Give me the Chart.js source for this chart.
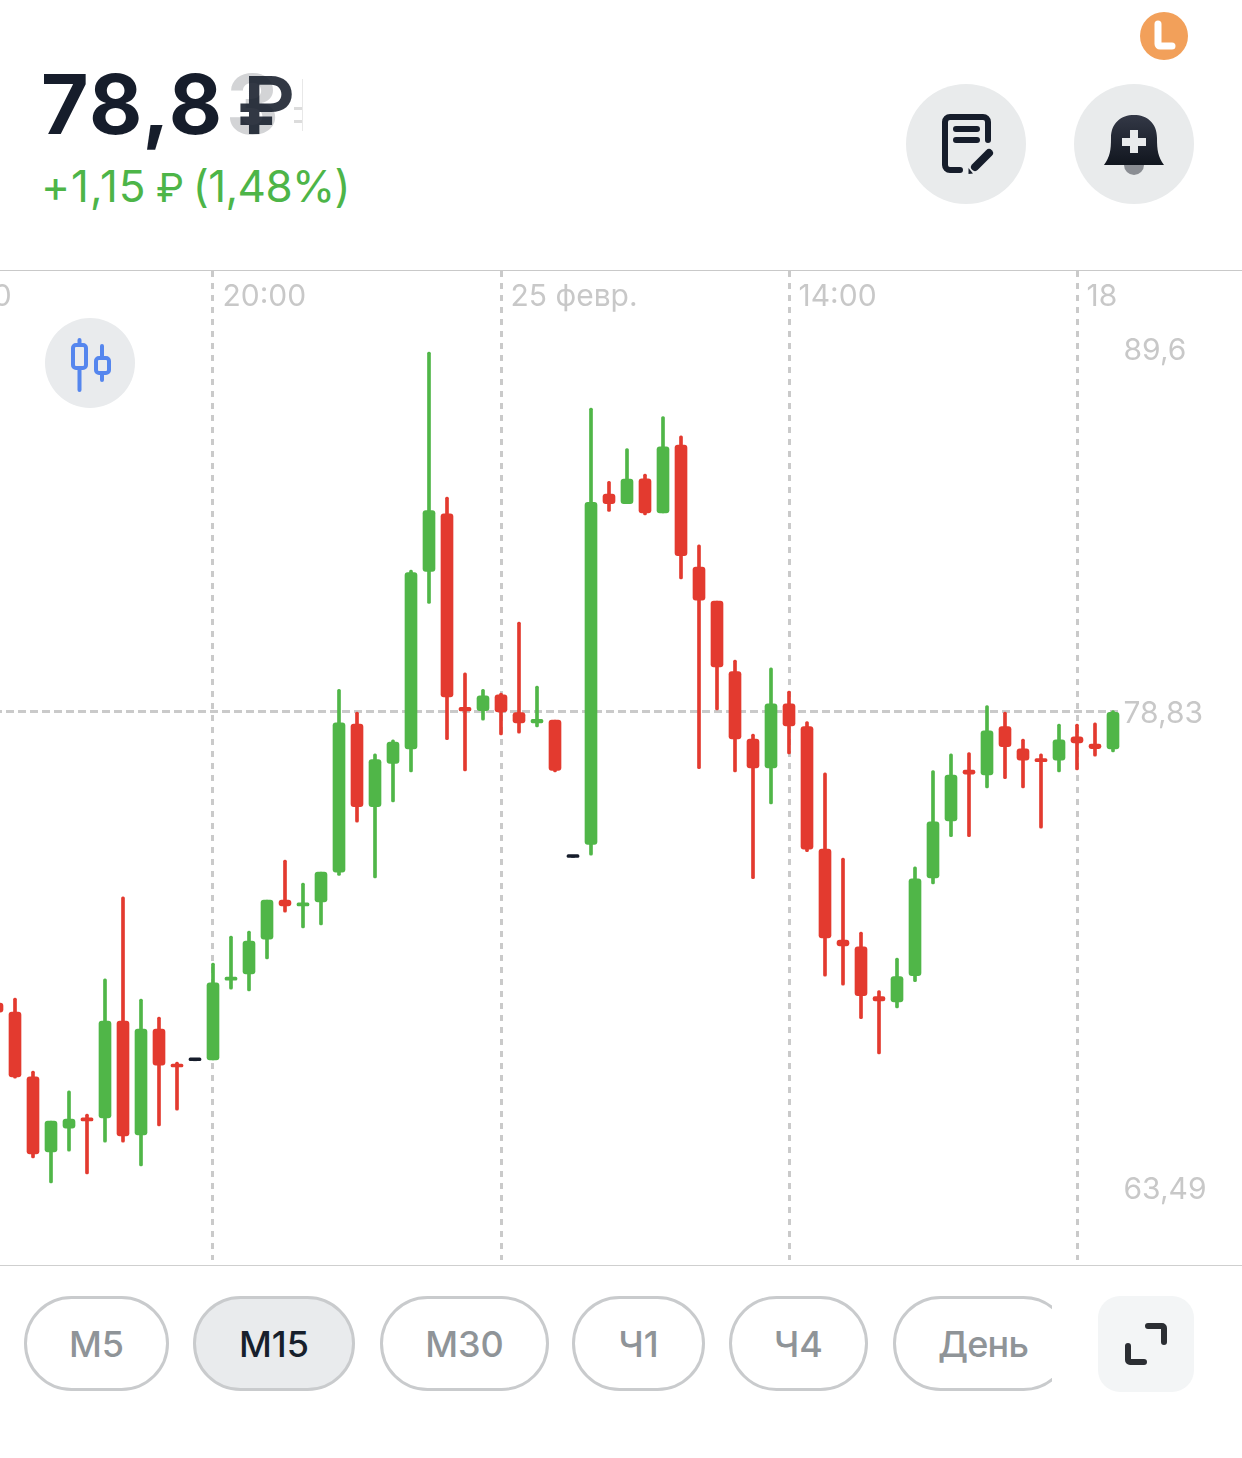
<!DOCTYPE html>
<html lang="ru">
<head>
<meta charset="utf-8">
<title>78,83 ₽</title>
<script src="https://cdn.jsdelivr.net/npm/chart.js@4/dist/chart.umd.js"></script>
<style>
html,body{margin:0;padding:0;background:#fff;width:1242px;height:1458px;overflow:hidden;font-family:Inter,"Noto Sans",sans-serif}
#page{position:relative;width:1242px;height:1458px;overflow:hidden}
.abs{position:absolute}
#chart{position:absolute;left:-102px;top:271px}
.pill{position:absolute;top:1296px;height:95px;box-sizing:border-box;border:3px solid #c9cbcd;border-radius:48px;color:#8f9498;font-size:36px;font-weight:500;display:flex;align-items:center;justify-content:center;background:#fff}
.pill.on{background:#e9ebed;color:#171f2c}
</style>
</head>
<body>
<div id="page">
  <div class="abs" style="left:226px;top:55px;font-size:82px;font-weight:700;line-height:100px;color:#d3d4d6">3</div>
  <div class="abs" style="left:41px;top:55px;font-size:82px;font-weight:700;line-height:100px;color:#161d2b;letter-spacing:1.5px">78,8</div>
  <div class="abs" style="left:237px;top:55px;font-size:80px;font-weight:600;line-height:100px;color:#161d2b;opacity:.88">₽</div>
  <div class="abs" style="left:294px;top:107px;width:8px;height:3px;background:#dcdcdc"></div>
  <div class="abs" style="left:294px;top:120px;width:8px;height:3px;background:#dcdcdc"></div>
  <div class="abs" style="left:302px;top:79px;width:1px;height:52px;background:#e8e8e8"></div>
  <div class="abs" style="left:41px;top:158px;font-size:44px;line-height:56px;color:#4db548;white-space:nowrap;letter-spacing:-0.6px"><span style="letter-spacing:1px">+1,15 </span><span style="font-size:40px;letter-spacing:0;margin-left:-4px">₽</span> <span style="letter-spacing:-0.6px;margin-left:-3px">(1,48%)</span></div>

  <svg class="abs" style="left:0;top:0" width="1242" height="270" viewBox="0 0 1242 270">
    <circle cx="1164" cy="36" r="24" fill="#f2a05a"/>
    <path d="M1158 24V44a2 2 0 0 0 2 2H1172" fill="none" stroke="#fff" stroke-width="7" stroke-linecap="round" stroke-linejoin="round"/>
    <circle cx="966" cy="144" r="60" fill="#e9ebec"/>
    <circle cx="1134" cy="144" r="60" fill="#e9ebec"/>
    <path d="M988 140V122a5 5 0 0 0-5-5H950a5 5 0 0 0-5 5V165a5 5 0 0 0 5 5H960" fill="none" stroke="#161d2b" stroke-width="6" stroke-linecap="round"/>
    <path d="M956 129H977M956 140H977" fill="none" stroke="#161d2b" stroke-width="6" stroke-linecap="round"/>
    <path d="M989 153L975 167" fill="none" stroke="#161d2b" stroke-width="8" stroke-linecap="round"/>
    <path d="M968.5 168L973 173.500L968.500 174Z" fill="#161d2b"/>
    <circle cx="1134" cy="165" r="10" fill="#8a8d93"/>
    <defs><linearGradient id="bg" x1="0" y1="0" x2="0" y2="1"><stop offset="0" stop-color="#333846"/><stop offset="1" stop-color="#11161f"/></linearGradient></defs>
    <path d="M1104 165C1110 157 1111 150 1111 138C1111 123 1121 115 1134 115C1147 115 1157 123 1157 138C1157 150 1158 157 1164 165Z" fill="url(#bg)"/>
    <path d="M1130 130H1138V138H1146V146H1138V153H1130V146H1122V138H1130Z" fill="#e9ebec"/>
  </svg>

  <canvas id="chart" width="1344" height="989"></canvas>

  <div class="abs" style="left:0;top:270px;width:1242px;height:1px;background:#c9c9c9"></div>
  <div class="abs" style="left:0;top:1265px;width:1242px;height:1px;background:#cfcfcf"></div>

  <svg class="abs" style="left:45px;top:318px" width="90" height="90" viewBox="45 318 90 90">
    <circle cx="90" cy="363" r="45" fill="#e9ebed"/>
    <g fill="none" stroke="#5586ee" stroke-width="4" stroke-linecap="round" stroke-linejoin="round">
      <path d="M79.500 340V345M79.500 368V390"/>
      <rect x="73" y="345" width="13" height="23" rx="3"/>
      <path d="M102 346V358M102 373V380"/>
      <rect x="96" y="358" width="13" height="15" rx="3"/>
    </g>
  </svg>

  <div class="pill" style="left:24px;width:145px">М5</div>
  <div class="pill on" style="left:193px;width:162px">М15</div>
  <div class="pill" style="left:380px;width:169px">М30</div>
  <div class="pill" style="left:572px;width:133px">Ч1</div>
  <div class="pill" style="left:729px;width:139px">Ч4</div>
  <div class="abs" style="left:893px;top:1290px;width:159px;height:107px;overflow:hidden">
    <div class="pill" style="left:0;top:6px;width:178px;justify-content:flex-start;padding-left:42px;letter-spacing:-0.8px">День</div>
  </div>
  <svg class="abs" style="left:1098px;top:1296px" width="96" height="96" viewBox="1098 1296 96 96">
    <rect x="1098" y="1296" width="96" height="96" rx="22" fill="#f3f5f6"/>
    <path d="M1148 1326H1162a2 2 0 0 1 2 2V1342M1128 1346V1360a2 2 0 0 0 2 2H1144" fill="none" stroke="#2b2e33" stroke-width="6" stroke-linecap="round"/>
  </svg>
</div>
<script>
// Price series (first five slots lie off-screen to the left).
const opens = [null,null,null,null,null,
  69.45,69.16,67.07,64.65,65.42,65.75,65.75,68.87,65.20,68.61,67.45,67.59,
  67.62,70.19,70.39,71.51,72.77,72.58,72.71,73.67,78.44,75.78,77.17,77.64,
  83.00,84.71,78.97,78.87,79.34,78.81,78.48,78.57,74.14,74.56,85.30,85.01,
  85.75,84.74,86.75,83.13,82.12,80.03,77.96,77.03,79.07,78.36,74.41,71.48,
  71.26,69.66,69.49,70.33,73.48,75.32,76.96,76.80,78.36,77.64,77.33,77.28,
  78.03,77.80,77.64];
const closes = [null,null,null,null,null,
  69.16,67.07,64.59,65.65,65.71,65.65,68.87,65.17,68.61,67.45,67.39,67.59,
  70.10,70.29,71.45,72.77,72.58,72.67,73.67,78.48,75.78,77.30,77.86,82.97,
  84.81,79.28,78.86,79.31,78.83,78.48,78.59,76.95,74.14,85.05,85.01,85.74,
  84.74,86.70,83.47,82.15,80.17,77.96,77.03,79.07,78.38,74.41,71.55,71.29,
  69.69,69.52,70.30,73.45,75.29,76.80,76.83,78.22,77.71,77.28,77.23,77.93,
  77.83,77.65,78.82];
const highs = [null,null,null,null,null,
  69.55,69.61,67.26,65.65,66.62,65.87,70.23,72.87,69.58,69.00,67.55,67.59,
  70.74,71.61,71.77,72.77,74.06,73.32,73.67,79.50,78.83,77.48,77.93,83.04,
  89.51,85.21,79.99,79.50,79.39,81.50,79.60,78.57,74.14,87.85,85.68,86.65,
  85.89,87.60,87.03,83.79,82.12,80.37,78.12,80.14,79.45,78.52,76.87,74.12,
  71.74,69.85,70.90,73.84,76.94,77.48,77.52,79.02,78.83,77.96,77.48,78.44,
  78.44,78.48,78.87];
const lows = [null,null,null,null,null,
  69.07,67.03,64.46,63.65,64.68,63.94,64.97,64.97,64.20,65.49,66.00,67.59,
  67.62,69.90,69.84,70.87,72.38,71.87,71.97,73.56,75.28,73.48,75.93,76.90,
  82.05,77.94,76.93,78.57,78.09,78.15,78.35,76.90,74.14,74.22,84.78,85.01,
  84.68,84.74,82.78,77.00,78.89,76.90,73.46,75.87,77.48,74.33,70.32,70.03,
  68.95,67.81,69.29,70.14,73.29,74.81,74.81,76.38,76.68,76.38,75.09,76.90,
  76.96,77.41,77.54];
// One slot per 15-minute candle; only labelled slots get a tick and a grid line.
const categories = ['', '16:00', '', '', '', '', '', '', '', '', '', '', '', '', '', '', '',
  '20:00', '', '', '', '', '', '', '', '', '', '', '', '', '', '', '',
  '25 февр.', '', '', '', '', '', '', '', '', '', '', '', '', '', '', '',
  '14:00', '', '', '', '', '', '', '', '', '', '', '', '', '', '', '',
  '18', '', ''];
const priceTicks = [89.6, 78.83, 63.49];
const priceLabels = ['89,6', '78,83', '63,49'];
const currentPrice = 78.83;

const GREEN = '#50b648', RED = '#e33a2f', BLACK = '#161d2b';
const colorOf = i => opens[i] === null ? 'transparent'
  : closes[i] > opens[i] ? GREEN : closes[i] < opens[i] ? RED : BLACK;
const colors = opens.map((_, i) => colorOf(i));

// The app's price axis is not uniform: the part above the last price is spread a little more.
const AXIS_MIN = 61.17, AXIS_MAX = 91.92, AXIS_BREAK = currentPrice, BREAK_AT = 0.5541;
class PiecewiseScale extends Chart.LinearScale {
  getPixelForValue(v) {
    if (v === null || v === undefined || isNaN(v)) return NaN;
    const d = v <= AXIS_BREAK
      ? BREAK_AT * (v - AXIS_MIN) / (AXIS_BREAK - AXIS_MIN)
      : BREAK_AT + (1 - BREAK_AT) * (v - AXIS_BREAK) / (AXIS_MAX - AXIS_BREAK);
    return this.getPixelForDecimal(d);
  }
  getValueForPixel(p) {
    const d = this.getDecimalForPixel(p);
    return d <= BREAK_AT
      ? AXIS_MIN + d / BREAK_AT * (AXIS_BREAK - AXIS_MIN)
      : AXIS_BREAK + (d - BREAK_AT) / (1 - BREAK_AT) * (AXIS_MAX - AXIS_BREAK);
  }
}
PiecewiseScale.id = 'piecewise';
PiecewiseScale.defaults = Chart.LinearScale.defaults;
Chart.register(PiecewiseScale);

const AXIS_FONT = {family: 'Inter', size: 30, weight: '400'};
const noPadding = s => { s.paddingLeft = s.paddingRight = s.paddingTop = s.paddingBottom = 0; };
new Chart(document.getElementById('chart'), {
  type: 'bar',
  data: {
    labels: categories,
    datasets: [
      {label: 'Тело', order: 1, barThickness: 12, minBarLength: 3, borderRadius: 3, borderSkipped: false,
       data: opens.map((o, i) => o === null ? null : [o, closes[i]]), backgroundColor: colors},
      {label: 'Тень', order: 2, barThickness: 3, borderRadius: 1.5, borderSkipped: false,
       data: highs.map((h, i) => h === null ? null : [lows[i], h]), backgroundColor: colors}
    ]
  },
  options: {
    responsive: false, animation: false, events: [],
    layout: {padding: 0},
    plugins: {legend: {display: false}, tooltip: {enabled: false}, title: {display: false}},
    datasets: {bar: {grouped: false}},
    scales: {
      x: {
        type: 'category', position: 'top', offset: true,
        afterBuildTicks: s => { s.ticks = s.ticks.filter(t => categories[t.value] !== ''); },
        afterFit: s => { s.height = 0; noPadding(s); },
        grid: {offset: false, drawTicks: false, color: '#cacaca', lineWidth: 3},
        border: {display: false, dash: [6, 6]},
        ticks: {autoSkip: false, maxRotation: 0, minRotation: 0, align: 'start', labelOffset: 9.5,
                mirror: true, padding: 8, color: '#c8c8c8', font: AXIS_FONT}
      },
      y: {
        type: 'piecewise', position: 'right', min: AXIS_MIN, max: AXIS_MAX,
        afterBuildTicks: s => { s.ticks = priceTicks.map(v => ({value: v})); },
        afterFit: s => { s.width = 120; noPadding(s); },
        grid: {drawTicks: false, lineWidth: 3,
               color: c => c.tick && c.tick.value === currentPrice ? '#cacaca' : 'transparent'},
        border: {display: false, dash: [8, 4]},
        ticks: {padding: 1.5, labelOffset: 2, color: '#c8c8c8', font: AXIS_FONT,
                callback: v => priceLabels[priceTicks.indexOf(v)]}
      }
    }
  }
});
</script>
</body>
</html>
